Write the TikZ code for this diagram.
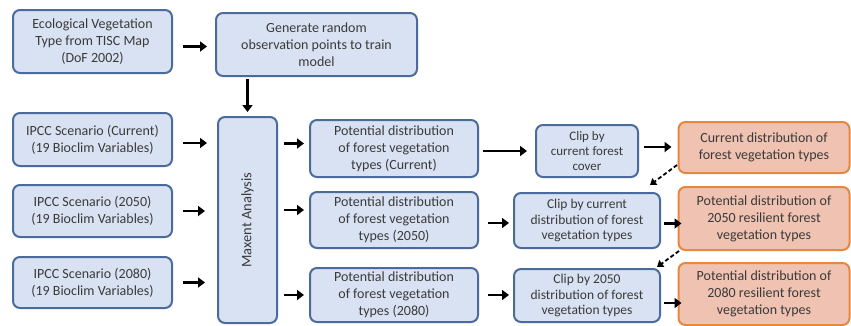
\documentclass[tikz,border=0pt]{standalone}
\usepackage{fontspec}
\setmainfont{Carlito}
\usetikzlibrary{arrows.meta}
\definecolor{bfill}{HTML}{D9E2F3}
\definecolor{bdraw}{HTML}{4A6B9B}
\definecolor{ofill}{HTML}{F0C2B2}
\definecolor{odraw}{HTML}{E8883E}
\definecolor{txt}{HTML}{3A3A3A}
\tikzset{
  box/.style={draw=bdraw, fill=bfill, line width=2pt, rounded corners=7pt, align=center, text=txt, inner sep=1pt},
  obox/.style={box, draw=odraw, fill=ofill},
  big/.style={font=\fontsize{14}{17}\selectfont},
  small/.style={font=\fontsize{13.5}{15.5}\selectfont},
  tiny/.style={font=\fontsize{13}{15}\selectfont},
  arr/.style={line width=2.4pt, -{Triangle[length=7pt,width=10pt]}},
  darr/.style={line width=1.8pt, dashed, dash pattern=on 4pt off 2.5pt, -{Triangle[length=6pt,width=8pt]}},
}
\begin{document}
\begin{tikzpicture}[x=1pt,y=-1pt]
\useasboundingbox (0,0) rectangle (851,325);
\node[box,big,minimum width=159pt,minimum height=63pt] (eco) at (92.5,41.5) {Ecological Vegetation\\Type from TISC Map\\(DoF 2002)};
\node[box,big,minimum width=201pt,minimum height=63pt] (gen) at (316.5,44.5) {Generate random\\observation points to train\\model};
\node[box,big,minimum width=159pt,minimum height=53pt] (ipccC) at (92.5,139.5) {IPCC Scenario (Current)\\(19 Bioclim Variables)};
\node[box,big,minimum width=159pt,minimum height=52pt] (ipcc50) at (92.5,211) {IPCC Scenario (2050)\\(19 Bioclim Variables)};
\node[box,big,minimum width=159pt,minimum height=51pt] (ipcc80) at (92.5,282.5) {IPCC Scenario (2080)\\(19 Bioclim Variables)};
\node[box,minimum width=59pt,minimum height=206pt] (maxent) at (247.5,220) {};
\node[rotate=90,text=txt,font=\fontsize{14.5}{16}\selectfont] (mlabel) at (maxent.center) {Maxent Analysis};
\node[box,big,minimum width=168pt,minimum height=57pt] (pdC) at (394,148.5) {Potential distribution\\of forest vegetation\\types (Current)};
\node[box,big,minimum width=168pt,minimum height=56pt] (pd50) at (394,220) {Potential distribution\\of forest vegetation\\types (2050)};
\node[box,big,minimum width=168pt,minimum height=54pt] (pd80) at (394,295) {Potential distribution\\of forest vegetation\\types (2080)};
\node[box,tiny,minimum width=102pt,minimum height=52pt] (clip1) at (587,151) {Clip by\\current forest\\cover};
\node[box,small,minimum width=146pt,minimum height=55pt] (clip2) at (587,220.5) {Clip by current\\distribution of forest\\vegetation types};
\node[box,small,minimum width=146pt,minimum height=53pt] (clip3) at (587,295.5) {Clip by 2050\\distribution of forest\\vegetation types};
\node[obox,big,minimum width=171pt,minimum height=51pt] (orC) at (764,147.5) {Current distribution of\\forest vegetation types};
\node[obox,big,minimum width=171pt,minimum height=63pt] (or50) at (764,218.5) {Potential distribution of\\2050 resilient forest\\vegetation types};
\node[obox,big,minimum width=171pt,minimum height=62pt] (or80) at (764,294) {Potential distribution of\\2080 resilient forest\\vegetation types};
\coordinate (d1s) at (677,165);
\coordinate (d1e) at (650,185);
\coordinate (d2s) at (679,251);
\coordinate (d2e) at (657,267);
% arrows
\draw[arr,shorten <=10pt,shorten >=8pt] ([yshift=-5pt]eco.east) -- ([yshift=-5pt]eco.east -| gen.west);
\draw[arr,shorten <=2pt,shorten >=4pt] (maxent.north |- gen.south) -- (maxent.north);
\draw[arr,shorten <=10pt,shorten >=10pt] ([yshift=-3.5pt]ipccC.east) -- ([yshift=-3.5pt]ipccC.east -| maxent.west);
\draw[arr,shorten <=10pt,shorten >=12pt] (ipcc50.east) -- (ipcc50.east -| maxent.west);
\draw[arr,shorten <=10pt,shorten >=12pt] (ipcc80.east) -- (ipcc80.east -| maxent.west);
\draw[arr,shorten <=6pt,shorten >=5pt] ([yshift=5pt]pdC.west -| maxent.east) -- ([yshift=5pt]pdC.west);
\draw[arr,shorten <=6pt,shorten >=5pt] ([yshift=10pt]pd50.west -| maxent.east) -- ([yshift=10pt]pd50.west);
\draw[arr,shorten <=6pt,shorten >=5pt] (pd80.west -| maxent.east) -- (pd80.west);
\draw[arr,shorten <=4pt,shorten >=8pt] (pdC.east |- clip1.west) -- (clip1.west);
\draw[arr,shorten <=5pt,shorten >=6pt] ([yshift=4pt]clip1.east) -- ([yshift=4pt]clip1.east -| orC.west);
\draw[arr,shorten <=9pt,shorten >=4pt] ([yshift=-3pt]pd50.east) -- ([yshift=-3pt]pd50.east -| clip2.west);
\draw[arr,shorten <=3pt,shorten >=-4pt] ([yshift=-3pt]clip2.east) -- ([yshift=-3pt]clip2.east -| or50.west);
\draw[arr,shorten <=9pt,shorten >=4pt] (pd80.east) -- (pd80.east -| clip3.west);
\draw[arr,shorten <=3pt,shorten >=-4pt] ([yshift=-7.5pt]clip3.east) -- ([yshift=-7.5pt]clip3.east -| or80.west);
\draw[darr] (d1s) -- (d1e);
\draw[darr] (d2s) -- (d2e);
\end{tikzpicture}
\end{document}
